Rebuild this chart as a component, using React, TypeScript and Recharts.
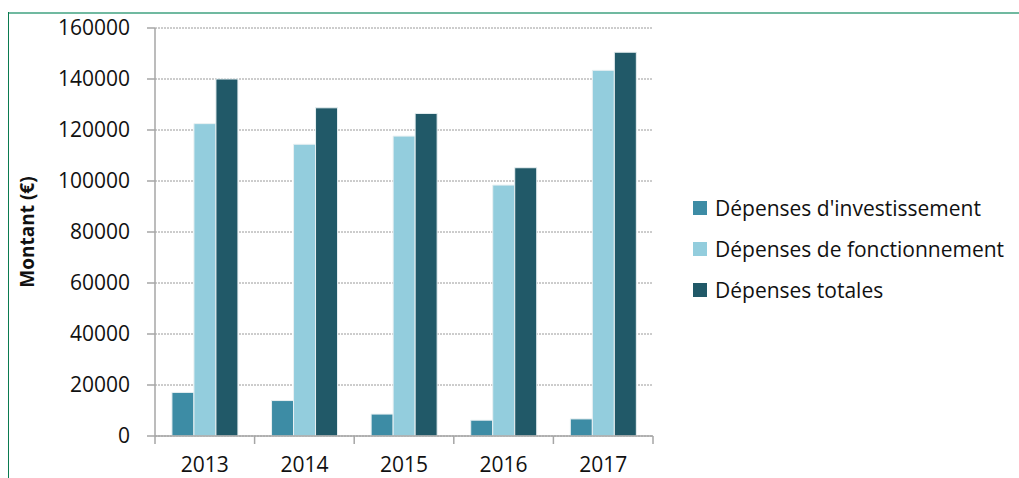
import React from "react";
import {
  BarChart,
  Bar,
  XAxis,
  YAxis,
  CartesianGrid,
  Legend,
  Label,
} from "recharts";

const years = ["2013", "2014", "2015", "2016", "2017"];
const investissement = [17100, 13900, 8600, 6200, 6700];
const fonctionnement = [122500, 114400, 117600, 98400, 143400];
const totales = [140000, 128700, 126500, 105200, 150500];
const yTicks = [0, 20000, 40000, 60000, 80000, 100000, 120000, 140000, 160000];

const series = [
  { key: "invest", name: "Dépenses d'investissement", color: "#3D8CA5" },
  { key: "fonct", name: "Dépenses de fonctionnement", color: "#93CDDD" },
  { key: "total", name: "Dépenses totales", color: "#215968" },
];

const data = years.map((year, i) => ({
  year,
  invest: investissement[i],
  fonct: fonctionnement[i],
  total: totales[i],
}));

const FONT = "'Open Sans', 'Liberation Sans', sans-serif";
const W = 1019;
const H = 478;
const legendWidth = 330;
// legend box is reserved on the right, x axis height (30) at the bottom
const margin = { top: 28, right: 366 - legendWidth, bottom: 12, left: 0 };
const yAxisWidth = 155;
const plotWidth = W - 366 - yAxisWidth;
const halfBand = plotWidth / years.length / 2;

const XTick = (props: any) => {
  const { x, y, payload, index } = props;
  const axisY = y - 21;
  return (
    <g>
      <line x1={x - halfBand} x2={x - halfBand} y1={axisY} y2={axisY + 8} stroke="#A6A6A6" strokeWidth={1.5} />
      {index === years.length - 1 && (
        <line x1={x + halfBand} x2={x + halfBand} y1={axisY} y2={axisY + 8} stroke="#A6A6A6" strokeWidth={1.5} />
      )}
      <text x={x} y={y} dy="0.71em" textAnchor="middle" fill="#111" fontSize={21} fontFamily={FONT}>
        {payload.value}
      </text>
    </g>
  );
};

const LegendContent = () => (
  <div style={{ fontFamily: FONT, fontSize: 21, color: "#111", whiteSpace: "nowrap" }}>
    {series.map((s) => (
      <div key={s.key} style={{ display: "flex", alignItems: "center", height: 41 }}>
        <span style={{ width: 14, height: 14, background: s.color, marginRight: 8, display: "inline-block" }} />
        <span>{s.name}</span>
      </div>
    ))}
  </div>
);

export default function App() {
  return (
    <div style={{ position: "absolute", left: 0, top: 0, width: W, height: H, background: "#fff", overflow: "hidden" }}>
      <div style={{ position: "absolute", left: 8, top: 12, right: 0, height: 2, background: "#70B9A0" }} />
      <div style={{ position: "absolute", left: 8, top: 12, bottom: 0, width: 1, background: "#0A7A50" }} />
      <BarChart
        width={W}
        height={H}
        data={data}
        margin={margin}
        barCategoryGap="17%"
        barGap={0}
        style={{ position: "absolute", left: 0, top: 0 }}
      >
        <CartesianGrid vertical={false} stroke="#9A9A9A" strokeDasharray="2 1" />
        <XAxis
          dataKey="year"
          tickLine={false}
          tickSize={8}
          tickMargin={13}
          stroke="#A6A6A6"
          strokeWidth={1.5}
          tick={<XTick />}
          interval={0}
        />
        <YAxis
          width={yAxisWidth}
          domain={[0, 160000]}
          ticks={yTicks}
          interval={0}
          tickSize={8}
          tickMargin={17}
          stroke="#A6A6A6"
          strokeWidth={1.5}
          tick={{ fill: "#111", fontSize: 21, fontFamily: FONT }}
        >
          <Label
            content={() => (
              <text
                x={34}
                y={232}
                transform="rotate(-90 34 232)"
                textAnchor="middle"
                fontFamily={FONT}
                fontSize={19}
                fontWeight="bold"
                fill="#111"
              >
                Montant (€)
              </text>
            )}
          />
        </YAxis>
        <Legend
          layout="vertical"
          verticalAlign="top"
          align="right"
          content={<LegendContent />}
          wrapperStyle={{ left: 693, top: 187, width: legendWidth }}
        />
        {series.map((s) => (
          <Bar
            key={s.key}
            dataKey={s.key}
            name={s.name}
            fill={s.color}
            stroke="#E8F0F2"
            strokeWidth={1}
            isAnimationActive={false}
          />
        ))}
      </BarChart>
    </div>
  );
}
